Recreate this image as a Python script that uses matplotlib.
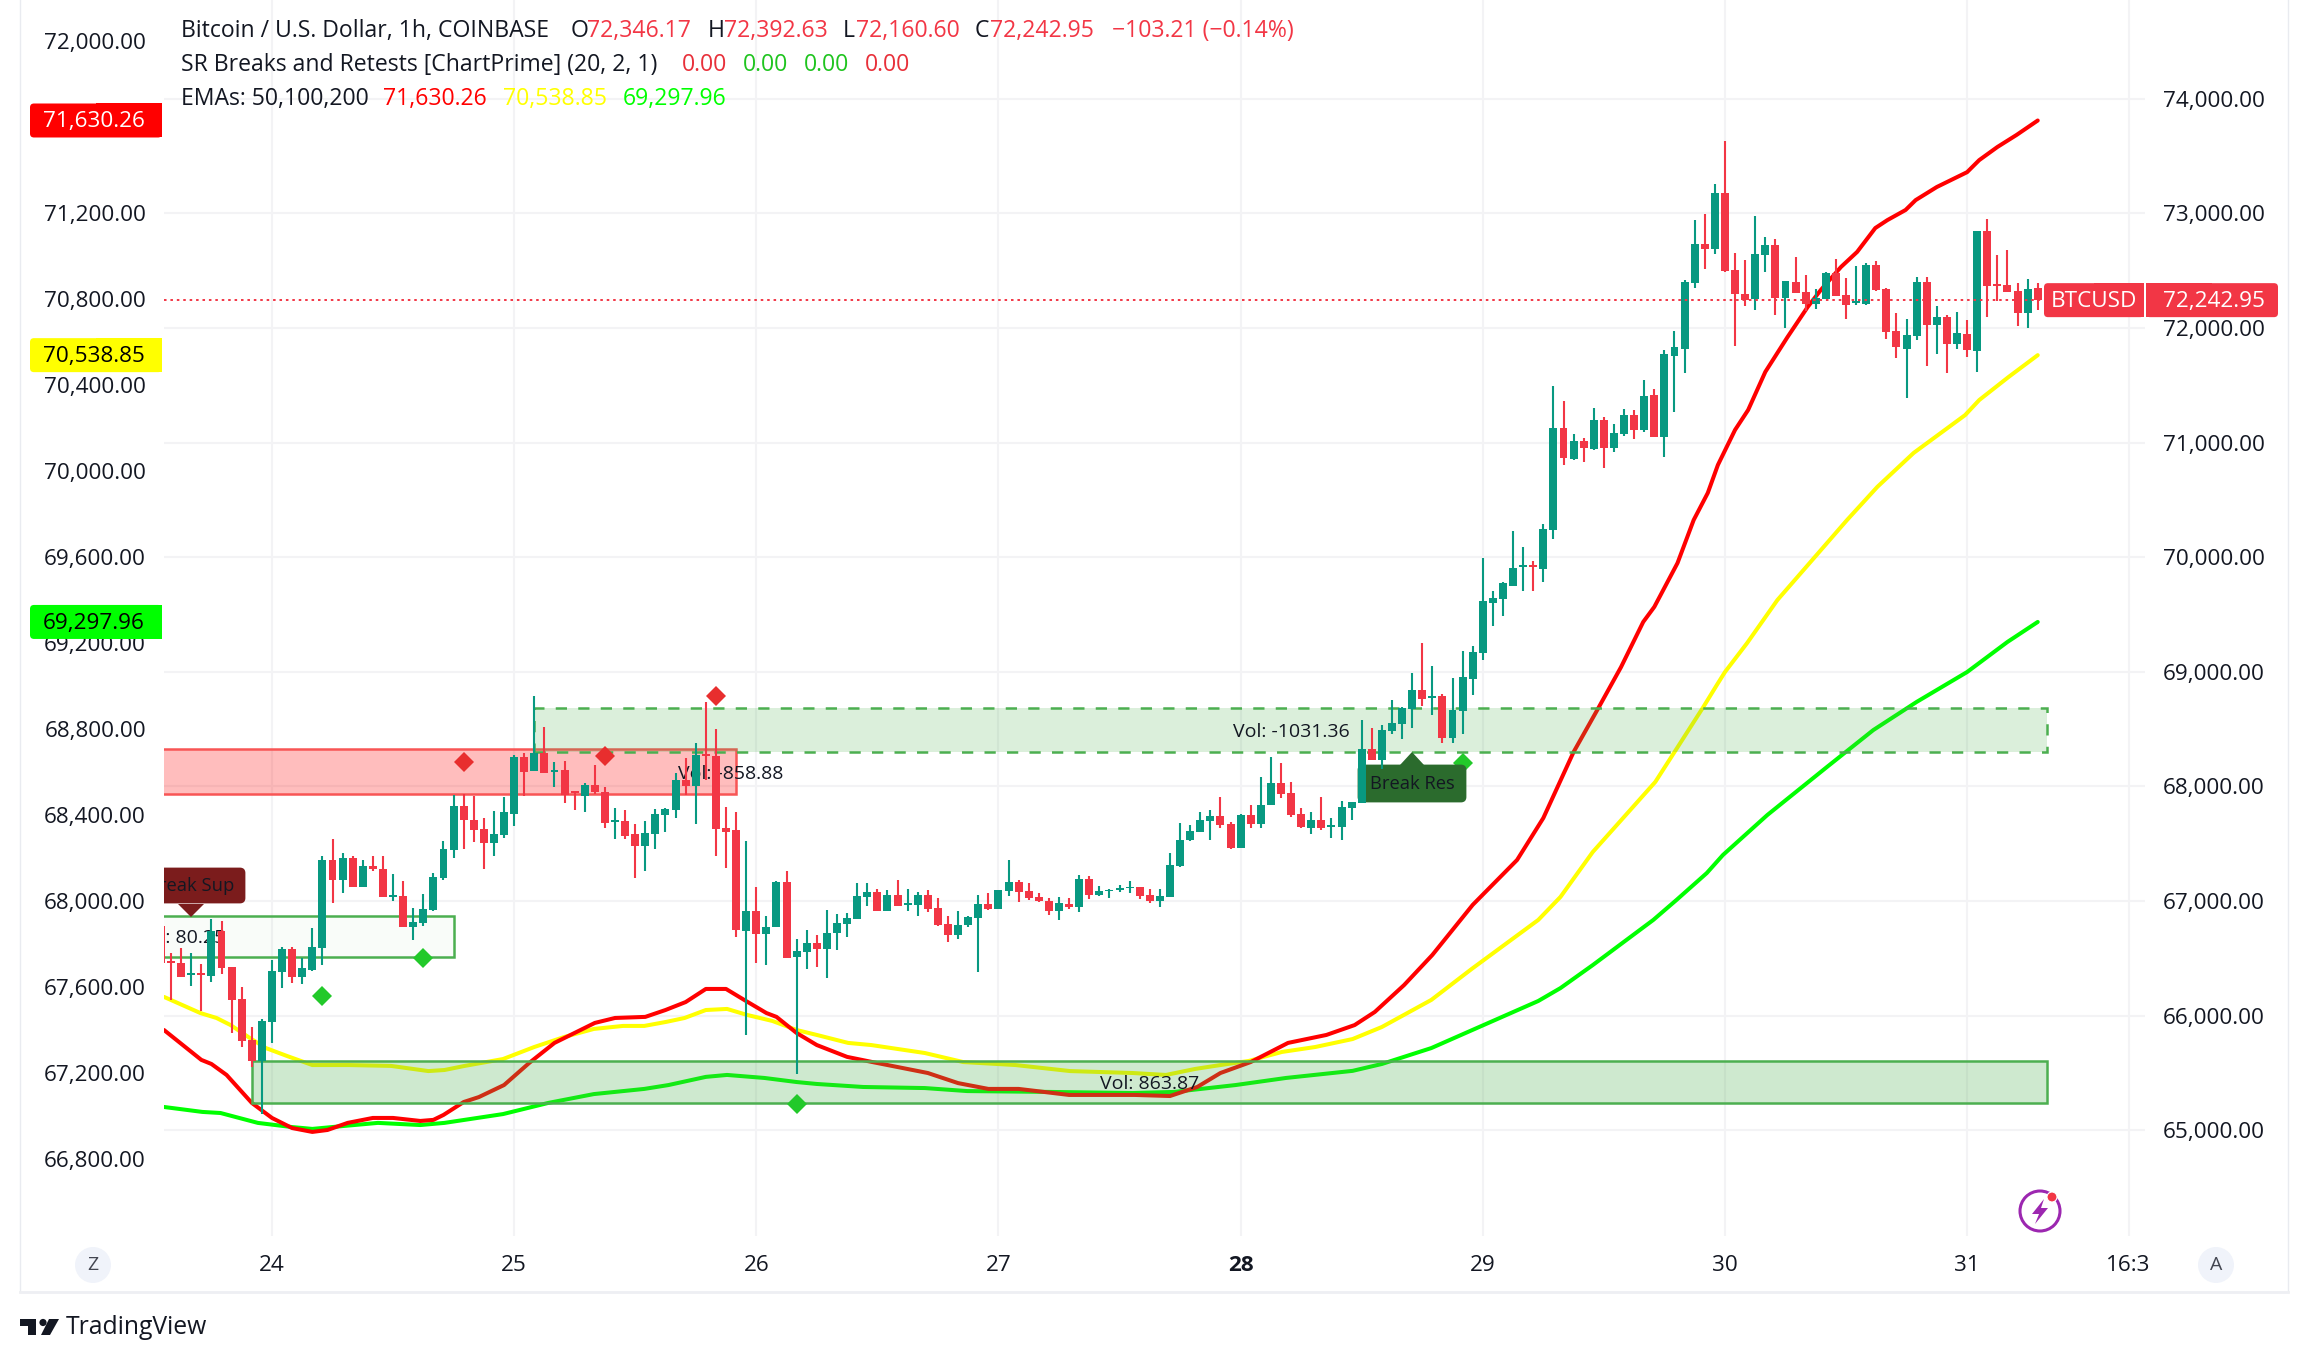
import numpy as np
import matplotlib
matplotlib.use("Agg")
import matplotlib.pyplot as plt
from matplotlib.patches import Rectangle, FancyBboxPatch, Polygon, Circle
from matplotlib.transforms import Affine2D

plt.rcParams['font.family'] = ['Open Sans', 'DejaVu Sans']

# =========================
# Data
# =========================
# bars are hours, 0 = start of the 24th
bars = np.arange(-11, 176)

opens = [66782, 66478, 66458, 66353, 66371, 66347, 66736, 66420, 66145, 65788, 65608,
         65947, 66382, 66580, 66339, 66397, 66591, 67354, 67183, 67371, 67122, 67302, 67276, 67032,
         67041, 66774, 66806, 66919, 67197, 67441, 67832, 67710, 67632, 67502, 67580, 67763,
         68259, 68137, 68293, 68125, 68145, 67957, 67919, 68015, 67954, 67693, 67702, 67589,
         67484, 67589, 67754, 67798, 68058, 68006, 68285, 68267, 67641, 67623, 66736, 66910,
         66710, 66771, 67162, 66510, 66553, 66632, 66580, 66719, 66797, 66840, 67032, 67075,
         66910, 67049, 66962, 66962, 67049, 66936, 66797, 66701, 66788, 66849, 66971, 66928,
         67084, 67162, 67084, 67032, 66997, 66910, 66971, 66945, 67188, 67049, 67087, 67099,
         67110, 67119, 67052, 67000, 67035, 67304, 67531, 67600, 67696, 67740, 67670, 67461,
         67748, 67670, 67835, 68027, 67940, 67757, 67635, 67705, 67647, 67644, 67809, 67858,
         68328, 68232, 68484, 68545, 68676, 68841, 68771, 68789, 68423, 68658, 68937, 69162,
         69597, 69632, 69753, 69916, 69928, 69893, 70241, 71128, 70858, 71015, 70948, 71198,
         70954, 71076, 71241, 71111, 71415, 71050, 71760, 71821, 72393, 72735, 72691, 73175,
         72507, 72296, 72252, 72639, 72727, 72261, 72401, 72314, 72208, 72252, 72481, 72287,
         72217, 72208, 72551, 72340, 71971, 71821, 71927, 72401, 72023, 72094, 71856, 71944,
         71795, 72850, 72384, 72375, 72322, 72129, 72346.17]
highs = [66782, 66545, 66588, 66550, 66449, 66841, 66823, 66420, 66246, 65898, 65971,
         66484, 66597, 66597, 66507, 66762, 67397, 67537, 67423, 67397, 67354, 67389, 67397, 67232,
         67171, 66936, 67058, 67241, 67528, 67928, 67937, 67919, 67728, 67789, 67911, 68276,
         68293, 68789, 68520, 68215, 68224, 67963, 68032, 68189, 67998, 67815, 67798, 67676,
         67702, 67806, 67815, 68119, 68250, 68380, 68737, 68502, 67824, 67780, 67528, 67119,
         66867, 67174, 67258, 66666, 66745, 66701, 66919, 66884, 66893, 67154, 67154, 67101,
         67093, 67180, 67101, 67075, 67093, 67023, 66867, 66910, 66867, 67049, 67067, 67093,
         67354, 67180, 67154, 67067, 67023, 67032, 67023, 67223, 67215, 67128, 67101, 67136,
         67171, 67119, 67104, 67104, 67418, 67679, 67661, 67774, 67792, 67905, 67687, 67757,
         67835, 68079, 68253, 68201, 68035, 67809, 67774, 67905, 67722, 67870, 67861, 68580,
         68510, 68537, 68754, 68693, 68989, 69250, 69050, 68806, 68945, 69180, 69224, 69997,
         69701, 69780, 70232, 70093, 69971, 70293, 71493, 71363, 71076, 71041, 71302, 71224,
         71163, 71293, 71285, 71546, 71467, 71807, 71971, 72419, 72938, 72999, 73254, 73632,
         72656, 72595, 72973, 72797, 72779, 72410, 72621, 72463, 72340, 72489, 72604, 72437,
         72542, 72568, 72586, 72349, 72129, 72076, 72445, 72445, 72190, 72111, 72138, 72067,
         72850, 72955, 72639, 72683, 72393, 72428, 72392.63]
lows = [66463, 66139, 66339, 66260, 66043, 66295, 66365, 65846, 65724, 65550, 65144,
        65765, 66243, 66287, 66278, 66391, 66443, 66983, 67070, 67122, 67122, 67258, 67035, 67000,
        66774, 66661, 66780, 66910, 67180, 67371, 67458, 67519, 67276, 67389, 67554, 67658,
        67919, 68137, 68119, 67998, 67858, 67797, 67780, 67937, 67641, 67545, 67545, 67197,
        67258, 67458, 67606, 67728, 67928, 67676, 68058, 67389, 67284, 66684, 65831, 66458,
        66440, 66771, 66501, 65492, 66405, 66423, 66327, 66571, 66684, 66840, 66954, 66910,
        66910, 66954, 66910, 66867, 66901, 66780, 66640, 66666, 66771, 66379, 66919, 66928,
        67041, 66988, 67006, 66988, 66875, 66832, 66928, 66901, 67014, 67041, 67023, 67075,
        67067, 67014, 66983, 66948, 67035, 67296, 67522, 67600, 67531, 67635, 67452, 67461,
        67635, 67635, 67835, 67896, 67731, 67635, 67583, 67618, 67548, 67531, 67705, 67858,
        68232, 68154, 68458, 68415, 68510, 68702, 68624, 68380, 68380, 68458, 68797, 69101,
        69397, 69484, 69745, 69701, 69701, 69780, 70162, 70806, 70850, 70832, 70937, 70780,
        70919, 71058, 71032, 71093, 71050, 70876, 71268, 71610, 72349, 72516, 72648, 72489,
        71839, 72190, 72155, 72489, 72111, 71997, 72305, 72147, 72164, 72252, 72278, 72076,
        72199, 72199, 72322, 71900, 71742, 71391, 71892, 71672, 71769, 71610, 71821, 71751,
        71619, 72094, 72234, 72314, 72015, 71997, 72160.60]
closes = [66463, 66461, 66339, 66371, 66353, 66736, 66417, 66139, 65782, 65608, 65953,
          66388, 66580, 66339, 66414, 66597, 67354, 67183, 67371, 67122, 67302, 67276, 67035, 67049,
          66774, 66814, 66928, 67206, 67450, 67832, 67710, 67623, 67502, 67589, 67780, 68259,
          68128, 68293, 68119, 68143, 67928, 67942, 68015, 67954, 67684, 67710, 67571, 67484,
          67597, 67763, 67806, 68058, 68006, 68276, 68267, 67632, 67606, 66745, 66910, 66710,
          66771, 67168, 66501, 66562, 66632, 66580, 66719, 66806, 66849, 67041, 67075, 66910,
          67049, 66954, 66980, 67049, 66928, 66788, 66701, 66788, 66858, 66971, 66928, 67093,
          67162, 67075, 67023, 66997, 66910, 66980, 66945, 67188, 67049, 67084, 67099, 67116,
          67125, 67043, 66997, 67043, 67313, 67531, 67609, 67705, 67740, 67661, 67461, 67748,
          67670, 67835, 68027, 67931, 67748, 67644, 67705, 67635, 67664, 67818, 67861, 68328,
          68232, 68493, 68554, 68684, 68841, 68763, 68789, 68423, 68667, 68954, 69172, 69614,
          69640, 69771, 69910, 69928, 69916, 70249, 71128, 70867, 71015, 70954, 71198, 70954,
          71085, 71241, 71111, 71406, 71050, 71772, 71830, 72401, 72735, 72691, 73175, 72498,
          72296, 72243, 72648, 72727, 72261, 72410, 72305, 72208, 72261, 72481, 72278, 72199,
          72234, 72551, 72331, 71962, 71830, 71935, 72401, 72023, 72094, 71856, 71953, 71804,
          72850, 72366, 72366, 72314, 72129, 72340, 72242.95]

# EMAs sit on the left price scale
ema50_x = [-10.7, -7, -6, -4.5, -2, 0, 2, 4, 5.5, 7.5, 10, 12, 14.7, 16, 17, 19, 20.5, 23, 25.5, 28,
           32, 34, 37, 39, 41, 43, 45, 46.8, 49, 50, 52, 54, 57, 59.5, 65, 68, 71, 74, 79, 85.5,
           89, 91.7, 94, 97, 100.7, 104.5, 107.3, 109.3, 112.2, 115, 119, 123.4, 126, 129, 131.4,
           133.7, 135.9, 137, 139.3, 140.9, 142.3, 143.3, 145, 146.3, 148, 150.2, 152.2, 153.5,
           155.5, 157.1, 158.9, 160.1, 161.9, 162.9, 165, 168, 169.2, 171, 172.9, 175]
ema50 = [67400, 67261, 67242, 67191, 67061, 66991, 66944, 66926, 66935, 66968, 66991, 66991, 66977,
         66982, 67005, 67065, 67088, 67144, 67247, 67340, 67433, 67456, 67461, 67493, 67530, 67591,
         67591, 67540, 67479, 67461, 67386, 67330, 67275, 67251, 67200, 67153, 67126, 67126, 67098,
         67098, 67093, 67135, 67200, 67251, 67340, 67377, 67423, 67484, 67609, 67749, 67982, 68191,
         68386, 68693, 68893, 69088, 69298, 69368, 69572, 69772, 69898, 70028, 70191, 70284, 70461,
         70623, 70763, 70842, 70949, 71019, 71130, 71167, 71214, 71260, 71321, 71390, 71446, 71507,
         71563, 71630.26]
ema100_x = [-10.7, -7.1, -5.5, -4.1, -2.2, -0.6, 1.5, 4, 7.6, 11.8, 15.5, 17.1, 19.1, 22.9, 26, 29,
            31.9, 34.8, 36.9, 39.1, 40.9, 43, 45.1, 47.1, 49.6, 52, 54, 57.1, 59.4, 64.7, 68.5, 73.7,
            79.1, 85.3, 88.6, 91.5, 94, 96.8, 100.1, 103.4, 107.1, 110, 114.9, 118.9, 125.5, 127.7,
            130.9, 137.1, 139, 141.8, 143.2, 144, 146.2, 149.2, 156.1, 159.1, 162.7, 167.8, 169.2,
            172.1, 175]
ema100 = [67554, 67479, 67456, 67423, 67363, 67316, 67279, 67237, 67237, 67233, 67209, 67214, 67233,
          67265, 67321, 67368, 67405, 67419, 67419, 67438, 67456, 67493, 67498, 67470, 67442, 67400,
          67377, 67340, 67330, 67293, 67251, 67237, 67209, 67200, 67191, 67219, 67237, 67256, 67298,
          67321, 67358, 67414, 67540, 67684, 67912, 68019, 68228, 68554, 68693, 68898, 69005, 69065,
          69200, 69400, 69772, 69926, 70084, 70260, 70330, 70437, 70538.85]
ema200_x = [-10.7, -6.9, -5.1, -1.4, 1.9, 4, 7.2, 10.5, 14.7, 17.1, 22.9, 27.4, 31.9, 36.9, 39.3, 43,
            45.1, 48.8, 52, 54, 58.6, 64.7, 68.9, 77.1, 85.3, 89.4, 95.5, 100.5, 107.1, 110, 114.9,
            125.5, 127.7, 130.9, 136.9, 139.2, 142.2, 143.8, 148.2, 154.1, 158.7, 163, 168, 172, 175]
ema200 = [67042, 67019, 67014, 66968, 66949, 66940, 66954, 66968, 66958, 66968, 67009, 67061, 67102,
          67126, 67144, 67182, 67191, 67177, 67158, 67149, 67135, 67130, 67116, 67112, 67107, 67112,
          67144, 67177, 67210, 67242, 67316, 67535, 67595, 67702, 67912, 68005, 68130, 68214, 68400,
          68623, 68795, 68926, 69065, 69205, 69297.96]

# support / resistance zones: first bar, last bar, bottom price, top price
red_zone = (-12, 46, 67937, 68328)
pale_zone = (-12, 18, 66513, 66867)
dashed_zone = (26, 175.9, 68300, 68684)
low_zone = (-2, 175.9, 65240, 65605)

red_diamond_x = [19, 33, 44]
red_diamond_y = [68209, 68261, 68786]
green_diamond_x = [5, 15, 52, 118]
green_diamond_y = [66174, 66507, 65229, 68206]

left_ticks = [72000, 71200, 70800, 70400, 70000, 69600, 69200, 68800, 68400, 68000, 67600, 67200, 66800]
right_ticks = [74000, 73000, 72000, 71000, 70000, 69000, 68000, 67000, 66000, 65000]
day_ticks = [0, 24, 48, 72, 96, 120, 144, 168, 184]
day_labels = ["24", "25", "26", "27", "28", "29", "30", "31", "16:3"]

last_price = closes[-1]

# =========================
# Colours
# =========================
INK = "#131722"
UP = "#089981"
DOWN = "#f23645"
BOX_GREEN = "#4caf50"
TICK_SIZE = 16.2
HEAD_SIZE = 16.6

# =========================
# Figure and axes, layered: grid, then EMAs, then price
# =========================
fig = plt.figure(figsize=(23.08, 13.62), dpi=100, facecolor="white")
# image pixels (y pointing down) for the decoration around the chart
px = Affine2D().scale(1, -1).translate(0, 1362)

pos = [164 / 2308, 1 - 1236 / 1362, (2145 - 164) / 2308, 1236 / 1362]
x_limits = (-10.70, 185.63)
right_limits = (64077, 74862)
left_limits = (66441.9, 72190.7)

base = fig.add_axes(pos, facecolor="white")
ema_ax = fig.add_axes(pos, facecolor="none")
price = fig.add_axes(pos, facecolor="none")
for a in (base, ema_ax, price):
    a.set_xlim(x_limits)
    for s in a.spines.values():
        s.set_visible(False)
base.set_ylim(right_limits)
ema_ax.set_ylim(left_limits)
price.set_ylim(right_limits)
price.set_axis_off()

# Grid and scales
base.yaxis.tick_right()
base.set_yticks(right_ticks, [f"{v:,.2f}" for v in right_ticks])
base.set_xticks(day_ticks, day_labels)
base.grid(color="#f3f3f5", linewidth=1.5)
base.set_axisbelow(True)
base.tick_params(axis="y", length=0, pad=13, labelsize=TICK_SIZE, labelcolor=INK)
base.tick_params(axis="x", length=0, pad=14, labelsize=TICK_SIZE, labelcolor=INK)
base.get_xticklabels()[4].set_fontweight("bold")

ema_ax.set_xticks([])
ema_ax.set_yticks(left_ticks, [f"{v:,.2f}" for v in left_ticks])
ema_ax.tick_params(axis="y", length=0, pad=13, labelsize=TICK_SIZE, labelcolor=INK)

# EMAs
ema_ax.plot(ema200_x, ema200, color="#00ff00", linewidth=2.9, solid_capstyle="round")
ema_ax.plot(ema100_x, ema100, color="#ffff00", linewidth=2.9, solid_capstyle="round")
ema_ax.plot(ema50_x, ema50, color="#ff0000", linewidth=2.9, solid_capstyle="round")

# Zones
x0, x1, y0, y1 = red_zone
price.add_patch(Rectangle((x0, y0), x1 - x0, y1 - y0, facecolor=(1, 0, 0, 0.26), edgecolor="#f85555", linewidth=1.8, zorder=2))
x0, x1, y0, y1 = pale_zone
price.add_patch(Rectangle((x0, y0), x1 - x0, y1 - y0, facecolor=(0.3, 0.69, 0.31, 0.03), edgecolor=BOX_GREEN, linewidth=1.8, zorder=2))
x0, x1, y0, y1 = dashed_zone
price.add_patch(Rectangle((x0, y0), x1 - x0, y1 - y0, facecolor=(0.3, 0.69, 0.31, 0.2), edgecolor="none", zorder=2))
price.add_patch(Rectangle((x0, y0), x1 - x0, y1 - y0, fill=False, edgecolor=BOX_GREEN, linewidth=1.8, linestyle=(0, (4.5, 4.5)), zorder=2))
x0, x1, y0, y1 = low_zone
price.add_patch(Rectangle((x0, y0), x1 - x0, y1 - y0, facecolor=(0.3, 0.69, 0.31, 0.27), edgecolor=BOX_GREEN, linewidth=1.8, zorder=2))

# Diamonds
price.plot(red_diamond_x, red_diamond_y, "D", color="#e82e2e", markersize=10, markeredgewidth=0, zorder=2.5)
price.plot(green_diamond_x, green_diamond_y, "D", color="#22c92a", markersize=10, markeredgewidth=0, zorder=2.5)

# Flag labels of the indicator
price.add_patch(FancyBboxPatch((150, 869), 94, 33, boxstyle="round,pad=0,rounding_size=4", facecolor="#7b1c1c", edgecolor="#7b1c1c", linewidth=2, transform=px, zorder=3))
price.add_patch(Polygon([(178, 904), (204, 904), (191, 917)], facecolor="#7b1c1c", edgecolor="none", transform=px, zorder=3))
price.add_patch(FancyBboxPatch((1359, 766), 106, 35, boxstyle="round,pad=0,rounding_size=4", facecolor="#2b6b2d", edgecolor="#2b6b2d", linewidth=2, transform=px, zorder=3))
price.add_patch(Polygon([(1400, 765), (1424, 765), (1412, 752)], facecolor="#2b6b2d", edgecolor="none", transform=px, zorder=3))
flag_style = dict(transform=px, ha="center", va="center", color=INK, fontsize=13.2, zorder=3, clip_on=True)
vol_style = dict(flag_style, fontsize=14)
price.text(191, 886, "Break Sup", **flag_style)
price.text(1412, 784, "Break Res", **flag_style)
price.text(181, 938, "Vol: 80.25", **vol_style)
price.text(731, 774, "Vol: -858.88", **vol_style)
price.text(1291, 732, "Vol: -1031.36", **vol_style)
price.text(1150, 1084, "Vol: 863.87", **vol_style)

# Candles
opens = np.array(opens)
closes = np.array(closes)
colors = [UP if c >= o else DOWN for o, c in zip(opens, closes)]
price.vlines(bars, lows, highs, colors=colors, linewidth=1.5, zorder=5)
price.bar(bars, np.abs(closes - opens), bottom=np.minimum(opens, closes), width=0.79, color=colors, linewidth=0, zorder=5)

# Last price line
price.plot([x_limits[0], 175.6], [last_price, last_price], color=DOWN, linewidth=1.4, linestyle=(0, (1.3, 2)), zorder=6)

# =========================
# Header text
# =========================
def write(x, y, s, color=INK, size=HEAD_SIZE, ha="left", **kw):
    fig.text(x, y, s, transform=px, color=color, fontsize=size, ha=ha, va="center", zorder=10, **kw)

write(181, 31, "Bitcoin / U.S. Dollar, 1h, COINBASE")
for x, s in [(571, "O"), (708, "H"), (843, "L"), (975, "C")]:
    write(x, 31, s)
for x, s in [(587, "72,346.17"), (724, "72,392.63"), (856, "72,160.60"), (990, "72,242.95"), (1112, "−103.21 (−0.14%)")]:
    write(x, 31, s, color=DOWN)
write(181, 65, "SR Breaks and Retests [ChartPrime] (20, 2, 1)")
write(682, 65, "0.00", color="#e8303a")
write(743, 65, "0.00", color="#1fc41f")
write(804, 65, "0.00", color="#1fc41f")
write(865, 65, "0.00", color="#e8303a")
write(181, 99, "EMAs: 50,100,200")
write(383, 99, f"{ema50[-1]:,.2f}", color="#ff0000")
write(503, 99, f"{ema100[-1]:,.2f}", color="#ffff00")
write(623, 99, f"{ema200[-1]:,.2f}", color="#00ff00")

# =========================
# Price pills
# =========================
def left_y(v):
    return (left_limits[1] - v) / (left_limits[1] - left_limits[0]) * 1236

def right_y(v):
    return (right_limits[1] - v) / (right_limits[1] - right_limits[0]) * 1236

def pill(x0, x1, yc, color, round_left=True):
    h = 34
    fig.add_artist(FancyBboxPatch((x0, yc - h / 2), x1 - x0, h, boxstyle="round,pad=0,rounding_size=4", facecolor=color, edgecolor="none", transform=px, zorder=5))
    if round_left:
        fig.add_artist(Rectangle(((x0 + x1) / 2, yc - h / 2), (x1 - x0) / 2, h, facecolor=color, edgecolor="none", transform=px, zorder=5))
    else:
        fig.add_artist(Rectangle((x0, yc - h / 2), (x1 - x0) / 2, h, facecolor=color, edgecolor="none", transform=px, zorder=5))

for value, fill, ink in [(ema50[-1], "#ff0000", "white"), (ema100[-1], "#ffff00", "black"), (ema200[-1], "#00ff00", "black")]:
    yc = left_y(value)
    pill(30, 162, yc, fill)
    write(145, yc + 1.5, f"{value:,.2f}", color=ink, size=TICK_SIZE, ha="right")

yc = right_y(last_price)
pill(2044, 2144, yc, DOWN)
pill(2146, 2278, yc, DOWN, round_left=False)
write(2094, yc + 1.5, "BTCUSD", color="white", size=TICK_SIZE, ha="center")
write(2163, yc + 1.5, f"{last_price:,.2f}", color="white", size=TICK_SIZE)

# =========================
# Frame, buttons and logo
# =========================
fig.add_artist(plt.Line2D([20, 20], [0, 1292], color="#e9ebf0", linewidth=1, transform=px))
fig.add_artist(plt.Line2D([2288, 2288], [0, 1292], color="#e9ebf0", linewidth=1, transform=px))
fig.add_artist(plt.Line2D([20, 2288], [1292, 1292], color="#eeeff3", linewidth=2, transform=px))

for x, s in [(93, "Z"), (2216, "A")]:
    fig.add_artist(Circle((x, 1265), 18, facecolor="#f0f3fa", edgecolor="none", transform=px))
    write(x, 1265, s, color="#434651", size=14, ha="center")

fig.add_artist(Circle((2040, 1211), 20, facecolor="white", edgecolor="#9c27b0", linewidth=2.2, transform=px))
fig.add_artist(Polygon([(2044, 1199), (2032, 1214), (2039, 1214), (2035, 1224), (2048, 1208), (2041, 1208)], facecolor="#9c27b0", edgecolor="none", transform=px))
fig.add_artist(Circle((2052, 1197), 5, facecolor=DOWN, edgecolor="white", linewidth=0.8, transform=px))

fig.add_artist(Polygon([(20, 1319), (36, 1319), (36, 1335), (28, 1335), (28, 1326), (20, 1326)], facecolor=INK, edgecolor="none", transform=px))
fig.add_artist(Circle((43, 1322.5), 3.6, facecolor=INK, edgecolor="none", transform=px))
fig.add_artist(Polygon([(49, 1319), (59, 1319), (50, 1335), (41, 1335)], facecolor=INK, edgecolor="none", transform=px))
write(66, 1328, "TradingView", size=17.8)

fig.savefig("out.png", dpi=100)
